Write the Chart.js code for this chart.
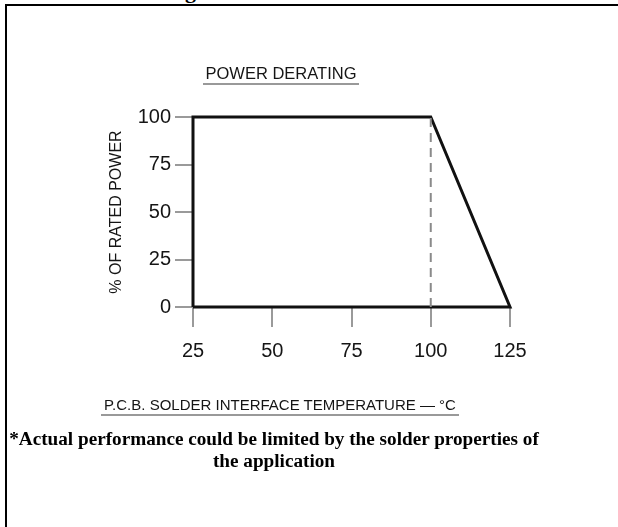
<!DOCTYPE html>
<html>
<head>
<meta charset="utf-8">
<script src="https://cdn.jsdelivr.net/npm/chart.js@4/dist/chart.umd.min.js"></script>
<style>
  html, body { margin: 0; padding: 0; background: #fff; }
  body { width: 618px; height: 527px; position: relative; overflow: hidden; }
  #frame { position: absolute; left: 5px; top: 4px; width: 700px; height: 600px;
           border-top: 2px solid #000; border-left: 2px solid #000; }
  #cut { position: absolute; top: -22px; left: 0; width: 196px; text-align: right;
         font: bold 22px "Liberation Serif", "Times New Roman", serif; color: #000; }
  #wrap { position: absolute; left: 0; top: 0; width: 618px; height: 527px; }
  .t { position: absolute; font-family: "Liberation Sans", Arial, sans-serif; color: #151515; white-space: nowrap; }
  #title { left: 0; width: 562px; text-align: center; top: 64px; font-size: 16.5px; }
  #title span, #xtitle span { border-bottom: 2px solid #999; padding: 0 3px 1px 3px; }
  #xtitle { left: 0; width: 560px; text-align: center; top: 396px; font-size: 15px; }
  #note { position: absolute; left: 0; width: 548px; text-align: center; top: 428px;
          font: bold 19.2px/22px "Liberation Serif", "Times New Roman", serif; color: #000; }
</style>
</head>
<body>
<div id="cut">Derating</div>
<div id="frame"></div>
<div id="wrap"><canvas id="c" width="618" height="527"></canvas></div>
<div class="t" id="title"><span>POWER DERATING</span></div>
<div class="t" id="xtitle"><span>P.C.B. SOLDER INTERFACE TEMPERATURE — °C</span></div>
<div id="note">*Actual performance could be limited by the solder properties of<br>the application</div>
<script>
// Data
const temperatures = [25, 25, 100, 125, 25];     // °C, closed derating outline
const ratedPower   = [0, 100, 100, 0, 0];        // % of rated power
const kneeTemp     = [100, 100];
const kneePower    = [0, 100];
const xTicks = [25, 50, 75, 100, 125];
const yTicks = [0, 25, 50, 75, 100];
const yAxisLabel = "% OF RATED POWER";

const outline = temperatures.map((t, i) => ({ x: t, y: ratedPower[i] }));
const knee = kneeTemp.map((t, i) => ({ x: t, y: kneePower[i] }));

const tickFont = { family: "'Liberation Sans', Arial, sans-serif", size: 20 };

new Chart(document.getElementById('c'), {
  type: 'scatter',
  data: {
    datasets: [
      { data: knee, showLine: true, borderColor: '#8a8a8a', borderWidth: 2,
        borderDash: [9, 6], pointRadius: 0, clip: false },
      { data: outline, showLine: true, borderColor: '#111', borderWidth: 3,
        pointRadius: 0, clip: false, borderJoinStyle: 'miter' }
    ]
  },
  options: {
    responsive: false,
    animation: false,
    events: [],
    layout: { padding: { left: 0, top: 117, right: 108, bottom: 160 } },
    plugins: { legend: { display: false }, tooltip: { enabled: false }, title: { display: false } },
    scales: {
      x: {
        type: 'linear', min: 25, max: 125,
        afterBuildTicks: s => { s.ticks = xTicks.map(v => ({ value: v })); },
        afterFit: s => { s.height = 60; },
        grid: { drawOnChartArea: false, tickLength: 20, color: '#9a9a9a', lineWidth: 2 },
        border: { display: false },
        ticks: { font: tickFont, color: '#151515', padding: 12, maxRotation: 0 }
      },
      y: {
        type: 'linear', min: 0, max: 100,
        afterBuildTicks: s => { s.ticks = yTicks.map(v => ({ value: v })); },
        afterFit: s => { s.width = 193; },
        grid: { drawOnChartArea: false, tickLength: 18, color: '#9a9a9a', lineWidth: 2 },
        border: { display: false },
        ticks: { font: tickFont, color: '#151515', padding: 4 },
        title: { display: true, text: yAxisLabel, color: '#151515',
                 font: { family: "'Liberation Sans', Arial, sans-serif", size: 16 },
                 padding: { top: 107, bottom: 0 } }
      }
    }
  }
});
</script>
</body>
</html>
